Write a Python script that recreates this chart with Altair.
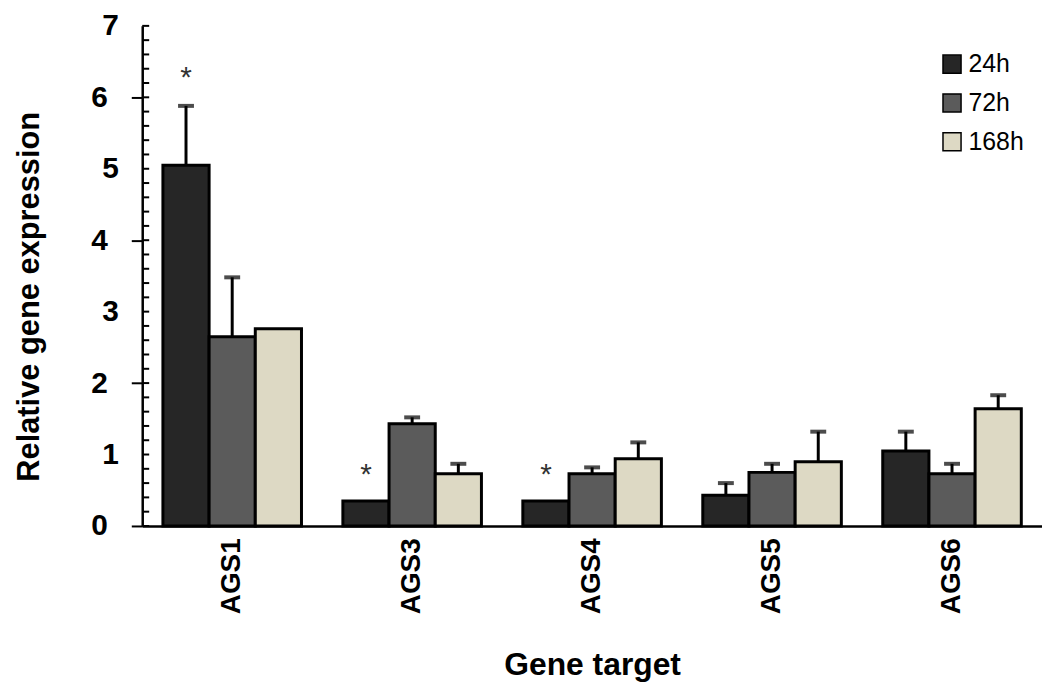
import altair as alt
import pandas as pd

genes = ["AGS1", "AGS3", "AGS4", "AGS5", "AGS6"]
times = ["24h", "72h", "168h"]
mean_24 = [5.05, 0.35, 0.35, 0.43, 1.05]
mean_72 = [2.65, 1.43, 0.73, 0.75, 0.73]
mean_168 = [2.76, 0.73, 0.94, 0.90, 1.64]
sd_24 = [0.83, 0.0, 0.0, 0.17, 0.27]
sd_72 = [0.83, 0.09, 0.09, 0.12, 0.14]
sd_168 = [0.0, 0.14, 0.23, 0.42, 0.19]
star_genes = ["AGS1", "AGS3", "AGS4"]
star_y = [6.35, 0.8, 0.8]
colors = ["#262626", "#5b5b5b", "#ddd9c4"]
minor_ticks = [round(i * 0.2, 1) for i in range(36)]

rows = []
for t, m, s in zip(times, [mean_24, mean_72, mean_168], [sd_24, sd_72, sd_168]):
    for g, mv, sv in zip(genes, m, s):
        rows.append({"gene": g, "time": t, "mean": mv, "sd": sv, "upper": round(mv + sv, 3)})
df = pd.DataFrame(rows)
df_err = df[df["sd"] > 0]
df_star = pd.DataFrame({"gene": star_genes, "time": ["24h"] * 3, "y": star_y})
df_minor = pd.DataFrame({"v": minor_ticks})

FONT = "Liberation Sans"

x_enc = alt.X("gene:N", sort=genes, title="Gene target",
              scale=alt.Scale(paddingInner=0.23, paddingOuter=0.115),
              axis=alt.Axis(labelAngle=-90, labelAlign="right", labelBaseline="middle",
                            labelFont=FONT, labelFontSize=28, labelFontWeight="bold",
                            labelColor="black", labelPadding=12, ticks=False,
                            domainColor="black", domainWidth=2.5,
                            titleFont=FONT, titleFontSize=32, titleFontWeight="bold",
                            titleColor="black", titlePadding=36))
xoff = alt.XOffset("time:N", sort=times, scale=alt.Scale(paddingInner=0, paddingOuter=0))
y_scale = alt.Scale(domain=[0, 7], nice=False)

bars = alt.Chart(df).mark_bar(stroke="black", strokeWidth=3).encode(
    x=x_enc,
    xOffset=xoff,
    y=alt.Y("mean:Q", scale=y_scale, title="Relative gene expression",
            axis=alt.Axis(values=[0, 1, 2, 3, 4, 5, 6, 7], format="d", grid=False,
                          tickColor="black", tickWidth=2,
                          tickSize={"condition": {"test": "datum.value % 2 == 0", "value": 11}, "value": 0},
                          labelFont=FONT, labelFontSize=30, labelFontWeight="bold",
                          labelColor="black", labelPadding=24,
                          domainColor="black", domainWidth=2.5,
                          titleFont=FONT, titleFontSize=31, titleFontWeight="bold",
                          titleColor="black", titlePadding=46, titleY=272)),
    fill=alt.Fill("time:N", sort=times, scale=alt.Scale(domain=times, range=colors),
                  legend=alt.Legend(title=None, orient="none", legendX=802, legendY=26,
                                    symbolType="square", symbolSize=330,
                                    symbolStrokeColor="black", symbolStrokeWidth=1.5,
                                    labelFont=FONT, labelFontSize=25, labelColor="black",
                                    rowPadding=13, labelOffset=4)),
)

stems = alt.Chart(df_err).mark_rule(color="black", strokeWidth=3).encode(
    x=alt.X("gene:N", sort=genes), xOffset=xoff,
    y=alt.Y("mean:Q", scale=y_scale), y2="upper:Q")

caps = alt.Chart(df_err).mark_tick(color="black", size=16, thickness=4).encode(
    x=alt.X("gene:N", sort=genes), xOffset=xoff,
    y=alt.Y("upper:Q", scale=y_scale))

stars = alt.Chart(df_star).mark_text(text="*", font=FONT, fontSize=30, color="#333333",
                                     baseline="middle", dy=6).encode(
    x=alt.X("gene:N", sort=genes), xOffset=xoff,
    y=alt.Y("y:Q", scale=y_scale))

minor = alt.Chart(df_minor).mark_rule(color="black", strokeWidth=2).encode(
    x=alt.value(0), x2=alt.value(7), y=alt.Y("v:Q", scale=y_scale))

chart = alt.layer(bars, stems, caps, stars, minor).properties(
    width=905, height=503,
    autosize=alt.AutoSizeParams(type="none"),
    padding={"left": 135, "top": 16, "right": 0, "bottom": 160},
).configure(background="white", view=alt.ViewConfig(stroke=None))

chart.save("out.html", embed_options={"renderer": "svg", "actions": False})
